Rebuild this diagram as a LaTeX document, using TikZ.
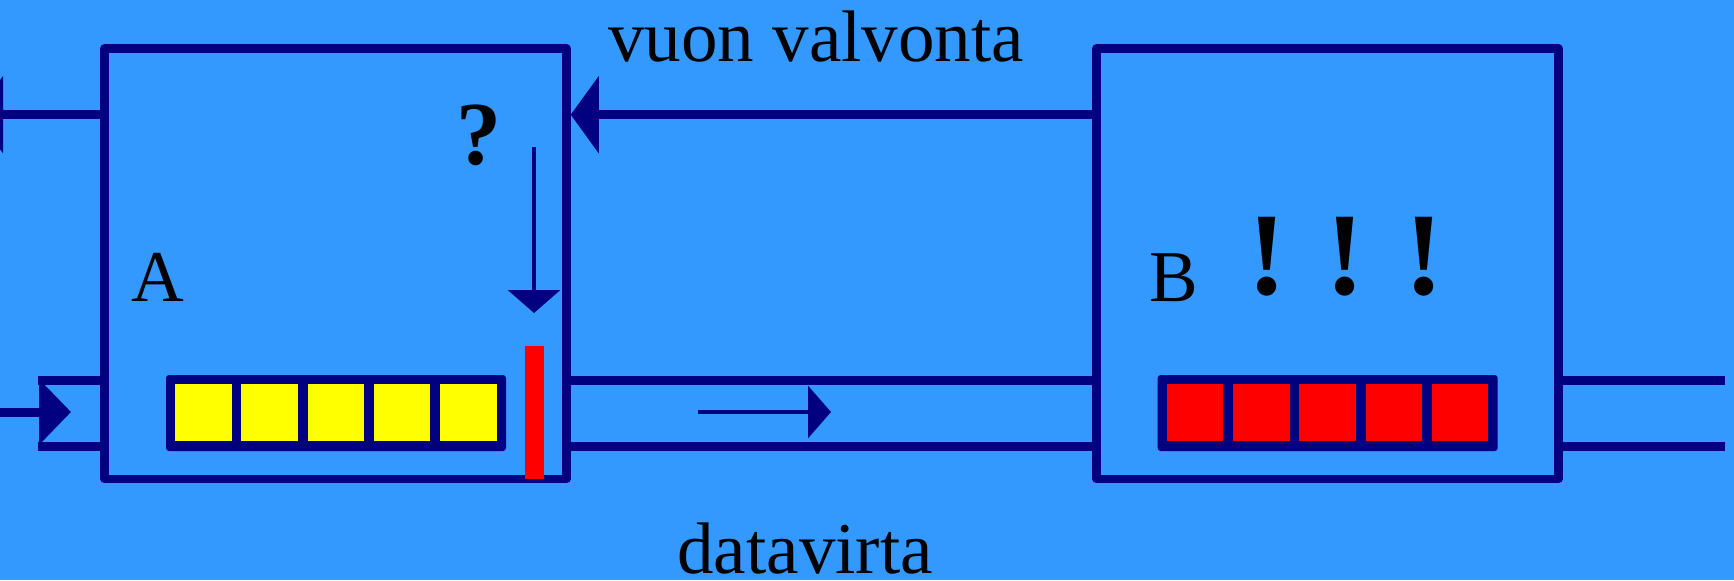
\documentclass[tikz,border=0pt]{standalone}
\usepackage{fontspec}
\setmainfont{Liberation Serif}
\usetikzlibrary{arrows.meta}
\definecolor{bg}{HTML}{3399FF}
\definecolor{navy}{HTML}{000080}
\definecolor{cellyellow}{HTML}{FFFF00}
\definecolor{cellred}{HTML}{FF0000}
\begin{document}
\begin{tikzpicture}[x=0.5pt,y=-0.5pt,
  pipeline/.style={draw=navy,line width=4.5pt},
  boxnode/.style={draw=navy,line width=4.25pt,line join=round,rectangle,inner sep=0pt,
    minimum width=231pt,minimum height=215.25pt},
  bufnode/.style={fill=navy,rectangle,rounded corners=1.5pt,inner sep=0pt,
    minimum width=170pt,minimum height=38pt},
  cellnode/.style={rectangle,inner sep=0pt,minimum width=28.25pt,minimum height=28.5pt},
  bigarrow/.style={draw=navy,line width=4.5pt,-{Triangle[length=14pt,width=38pt]}},
  inarrow/.style={draw=navy,line width=4.5pt,-{Triangle[length=16pt,width=32pt]}},
  thinarrow/.style={draw=navy,line width=1.65pt,-{Triangle[length=11.5pt,width=26pt]}},
  lbl/.style={inner sep=0pt,font=\fontsize{36.5pt}{40pt}\selectfont},
]
\useasboundingbox (0,0) rectangle (1734,580);
\fill[bg] (0,0) rectangle (1734,580);
\clip (0,0) rectangle (1734,580);

% boxes
\node[boxnode] (A) at (335.5,263.75) {};
\node[boxnode] (B) at (1327.5,263.75) {};

% control coordinates
\coordinate (ctrlL) at (-25,114.7);
\coordinate (ctrl) at (0,114.7);
\coordinate (pipeTL) at (38,380);
\coordinate (pipeBL) at (38,446);
\coordinate (pipeTR) at (1725,380);
\coordinate (pipeBR) at (1725,446);
\coordinate (inS) at (0,412);
\coordinate (inE) at (71,412);
\coordinate (dS) at (698,412);
\coordinate (dE) at (831,412);
\coordinate (qS) at (534,147);
\coordinate (qE) at (534,313);

% flow control arrows
\draw[bigarrow] (B.west |- ctrl) -- (A.east |- ctrl);
\draw[bigarrow] (A.west |- ctrl) -- (ctrlL);

% data pipe
\draw[pipeline] (pipeTL) -- (A.west |- pipeTL);
\draw[pipeline] (pipeBL) -- (A.west |- pipeBL);
\draw[pipeline] (A.east |- pipeTL) -- (B.west |- pipeTL);
\draw[pipeline] (A.east |- pipeBL) -- (B.west |- pipeBL);
\draw[pipeline] (B.east |- pipeTR) -- (pipeTR);
\draw[pipeline] (B.east |- pipeBR) -- (pipeBR);
\draw[inarrow] (inS) -- (inE);
\draw[thinarrow] (dS) -- (dE);

% buffer A
\node[bufnode] (bufA) at (336,413) {};
\foreach \i in {1,...,5}{
  \node[cellnode,fill=cellyellow] (cA\i) at ({203.25+66.25*(\i-1)},412.8) {};
}
% buffer B
\node[bufnode] (bufB) at (1327.7,413) {};
\foreach \i in {1,...,5}{
  \node[cellnode,fill=cellred] (cB\i) at ({1195+66.3*(\i-1)},412.8) {};
}

% red bar and question arrow
\node[rectangle,fill=cellred,inner sep=0pt,minimum width=9.5pt,minimum height=66.5pt] (redbar) at (534.5,412.5) {};
\draw[thinarrow] (qS) -- (qE);

% texts
\node[lbl,anchor=base west] (tvuon) at (608,61.7) {vuon valvonta};
\node[lbl,anchor=base west] (tdata) at (677,573) {datavirta};
\node[lbl,anchor=base west] (tA) at (131,301.7) {A};
\node[lbl,anchor=base west] (tB) at (1149,301.7) {B};
\node[inner sep=0pt,anchor=base,font=\fontsize{45pt}{50pt}\selectfont\bfseries] (tq) at (478.7,164) {?};
\node[inner sep=0pt,anchor=base,font=\fontsize{59pt}{64pt}\selectfont\bfseries] (tex) at (1345.5,294) {! ! !};
\end{tikzpicture}
\end{document}
